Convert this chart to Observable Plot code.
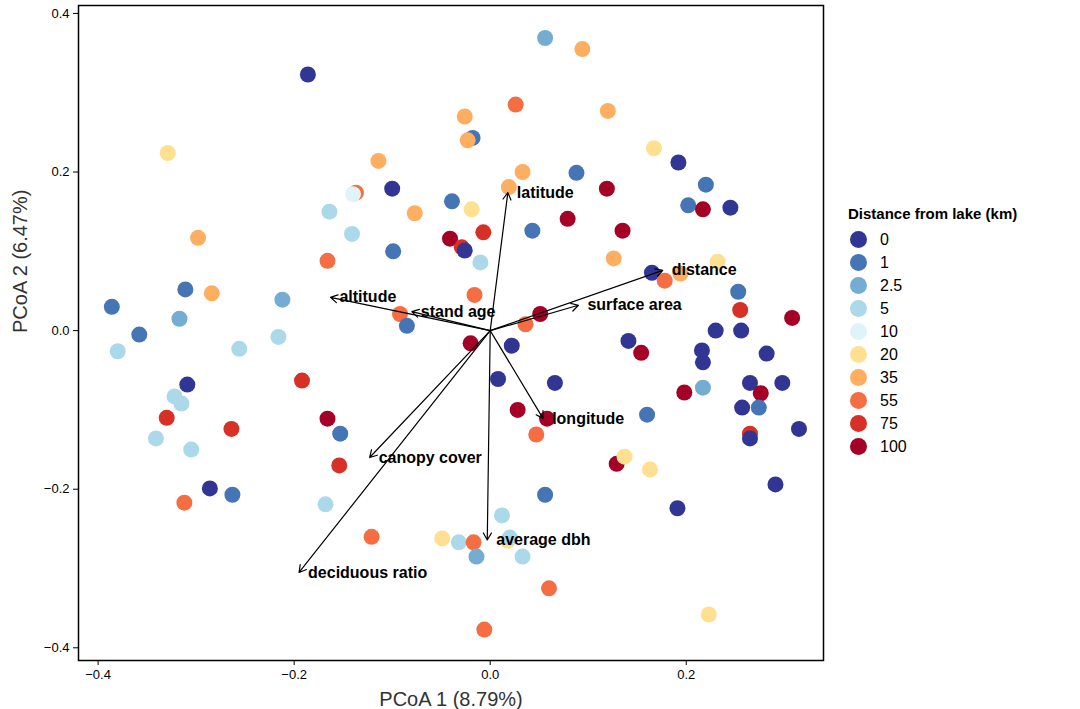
<!DOCTYPE html>
<html><head><meta charset="utf-8">
<script src="https://cdn.jsdelivr.net/npm/d3@7"></script>
<script src="https://cdn.jsdelivr.net/npm/@observablehq/plot@0.6"></script>
<style>
body{margin:0;background:#fff;font-family:Arial,"Liberation Sans",sans-serif}
#wrap{position:relative;width:1080px;height:709px}
#legend{position:absolute;left:848px;top:205px;font-size:16px}
#legend .t{font-weight:bold;font-size:15px;margin-bottom:6px}
#legend .i{display:flex;align-items:center;height:23px}
#legend .c{width:17px;height:17px;border-radius:50%;margin:0 13px 0 2px}
</style></head>
<body><div id="wrap"><div id="chart"></div><div id="legend"></div></div>
<script>
const levels = ["0","1","2.5","5","10","20","35","55","75","100"];
const colors = ["#313695","#4575b4","#74add1","#abd9e9","#e0f3f8","#fee090","#fdae61","#f46d43","#d73027","#a50026"];

const px = [-0.186,0.056,0.094,-0.329,-0.026,-0.018,-0.023,0.026,0.120,0.167,0.192,0.220,0.202,0.245,0.217,-0.114,-0.100,-0.137,-0.140,-0.164,-0.141,-0.039,-0.019,0.019,0.033,0.088,0.119,0.079,0.043,0.135,-0.077,-0.298,-0.099,-0.041,-0.029,-0.026,-0.007,-0.010,-0.166,0.126,0.232,0.165,0.178,0.194,-0.386,-0.358,-0.380,-0.311,-0.284,-0.317,-0.212,-0.216,-0.256,-0.016,-0.092,-0.085,0.051,0.036,0.253,0.255,0.230,0.256,0.308,0.141,0.154,-0.020,0.022,0.216,0.282,0.217,0.008,0.066,-0.309,-0.192,0.265,0.298,0.217,0.198,0.276,-0.322,-0.315,0.257,0.274,-0.330,-0.166,0.028,0.058,0.160,0.315,-0.264,-0.153,0.047,0.265,0.265,-0.341,-0.305,-0.154,0.129,0.137,0.163,-0.286,-0.263,-0.312,0.056,0.291,0.191,-0.168,0.012,-0.121,-0.049,-0.032,-0.017,-0.014,0.018,0.020,0.033,0.060,0.223,-0.006];
const py = [0.323,0.369,0.355,0.224,0.270,0.243,0.240,0.285,0.277,0.230,0.212,0.184,0.158,0.155,0.153,0.214,0.179,0.174,0.172,0.150,0.122,0.163,0.153,0.181,0.200,0.199,0.179,0.141,0.126,0.126,0.148,0.117,0.100,0.116,0.105,0.101,0.124,0.086,0.088,0.091,0.087,0.073,0.063,0.072,0.030,-0.005,-0.026,0.052,0.047,0.015,0.039,-0.008,-0.023,0.045,0.021,0.006,0.021,0.008,0.049,0.026,0.000,0.000,0.016,-0.013,-0.028,-0.016,-0.019,-0.025,-0.029,-0.040,-0.061,-0.066,-0.068,-0.063,-0.066,-0.066,-0.072,-0.078,-0.079,-0.083,-0.092,-0.097,-0.097,-0.110,-0.111,-0.100,-0.111,-0.106,-0.124,-0.124,-0.130,-0.131,-0.130,-0.136,-0.136,-0.150,-0.170,-0.168,-0.159,-0.175,-0.199,-0.207,-0.217,-0.207,-0.194,-0.224,-0.219,-0.233,-0.260,-0.262,-0.267,-0.267,-0.285,-0.265,-0.261,-0.285,-0.325,-0.358,-0.377];
const dist = ["0","2.5","35","20","35","1","35","55","35","20","0","1","1","0","100","35","0","55","10","5","5","1","20","35","35","1","100","100","1","100","35","35","1","100","75","0","75","5","55","35","20","0","55","35","1","1","5","1","35","2.5","2.5","5","5","55","55","1","100","55","1","75","0","0","100","0","100","100","0","0","0","0","0","0","0","75","0","0","2.5","100","100","5","5","0","1","75","100","100","100","1","0","75","1","55","75","0","5","5","75","100","20","20","0","1","55","1","0","0","5","5","55","20","5","55","2.5","20","5","5","55","20","55"];

const vars = ["latitude","distance","surface area","altitude","stand age","longitude","canopy cover","average dbh","deciduous ratio"];
const vx = [0.018,0.176,0.090,-0.163,-0.080,0.054,-0.123,-0.003,-0.195];
const vy = [0.174,0.076,0.032,0.042,0.024,-0.111,-0.160,-0.264,-0.305];

const pts = px.map((x,i)=>({x, y:py[i], d:dist[i]}));
const arr = vars.map((n,i)=>({n, x:vx[i], y:vy[i]}));
const fmt = d => d===0 ? "0.0" : d3.format(".1f")(d);

const chart = Plot.plot({
  width:1080, height:709,
  marginLeft:78, marginRight:257, marginTop:5, marginBottom:49,
  style:{fontSize:"13px", fontFamily:"Arial, Liberation Sans, sans-serif", color:"#000"},
  x:{domain:[-0.420,0.340]},
  y:{domain:[-0.416,0.410]},
  color:{domain:levels, range:colors},
  marks:[
    Plot.frame({stroke:"#000", strokeWidth:1.5}),
    Plot.axisX({ticks:[-0.4,-0.2,0,0.2], tickFormat:fmt, tickSize:5, fontSize:13, label:null}),
    Plot.axisY({ticks:[-0.4,-0.2,0,0.2,0.4], tickFormat:fmt, tickSize:5, fontSize:13, label:null}),
    Plot.dot(pts,{x:"x",y:"y",fill:"d",r:8,stroke:null}),
    Plot.arrow(arr,{x1:0,y1:0,x2:"x",y2:"y",stroke:"#000",strokeWidth:1.2,headLength:10,bend:false}),
    Plot.text(arr,{x:"x",y:"y",text:"n",dx:9,textAnchor:"start",fontWeight:"bold",fontSize:16,fill:"#000"}),
    Plot.text(["PCoA 1 (8.79%)"],{frameAnchor:"bottom",dy:45,fontSize:20,fill:"#333"}),
    Plot.text(["PCoA 2 (6.47%)"],{frameAnchor:"left",dx:-58,rotate:-90,fontSize:20,fill:"#333"})
  ]
});
d3.select("#chart").append(()=>chart);

const lg = d3.select("#legend");
lg.append("div").attr("class","t").text("Distance from lake (km)");
levels.forEach((l,i)=>{
  const it = lg.append("div").attr("class","i");
  it.append("div").attr("class","c").style("background",colors[i]);
  it.append("span").text(l);
});
</script></body></html>
